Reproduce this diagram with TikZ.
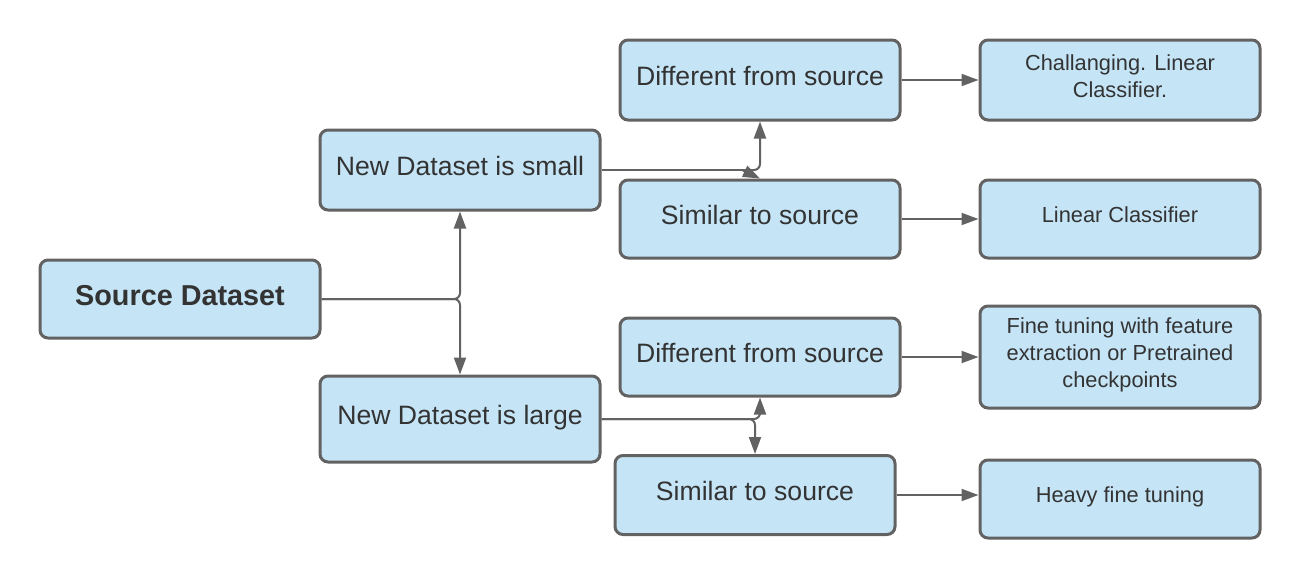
\documentclass[tikz,border=0pt]{standalone}
\usepackage{fontspec}
\setmainfont{Liberation Sans}
\usepackage{tikz}
\usetikzlibrary{positioning,arrows.meta}
\definecolor{boxFill}{RGB}{197,229,247}
\definecolor{boxLine}{RGB}{98,98,98}
\definecolor{textColor}{RGB}{51,51,51}
\tikzstyle{flowchart} = [x = 0.5pt, y = -0.5pt]
\tikzstyle{boxStyle} = [draw=boxLine, fill=boxFill, line width=1.5pt, rounded corners=4pt, text=textColor, minimum width=140pt, align=center, inner sep=2pt, text depth=4pt]
\tikzstyle{bigBox} = [boxStyle, font=\fontsize{13.3}{16}\selectfont]
\tikzstyle{smallBox} = [boxStyle, font=\fontsize{10.9}{13.5}\selectfont]
\tikzstyle{link} = [draw=boxLine, line width=1pt, rounded corners=3pt, -{Triangle[length=8.5pt,width=6pt]}]
\tikzset{boxHeight/.style={minimum height=#1*0.5pt}}
\begin{document}
\begin{tikzpicture}[flowchart]
    \useasboundingbox (0,0) rectangle (1300,579);
    % left column
    \node [bigBox, boxHeight=78, font=\fontsize{14.4}{17}\selectfont] (source) at (180,299) {\textbf{Source Dataset}};
    \node [bigBox, boxHeight=80] (small) at (460,170) {New Dataset is small};
    \node [bigBox, boxHeight=86] (large) at (460,419) {New Dataset is large};
    % middle column
    \node [bigBox, boxHeight=80] (diffSmall) at (760,80) {Different from source};
    \node [bigBox, boxHeight=78] (simSmall) at (760,219) {Similar to source};
    \node [bigBox, boxHeight=78] (diffLarge) at (760,357) {Different from source};
    \node [bigBox, boxHeight=79] (simLarge) at (755,495) {Similar to source};
    % right column
    \node [smallBox, boxHeight=80] (outDiffSmall) at (1120,80) {Challanging. Linear\\Classifier.};
    \node [smallBox, boxHeight=78] (outSimSmall) at (1120,219) {Linear Classifier};
    \node [smallBox, boxHeight=102] (outDiffLarge) at (1120,357) {Fine tuning with feature\\extraction or Pretrained\\checkpoints};
    \node [smallBox, boxHeight=78] (outSimLarge) at (1120,499) {Heavy fine tuning};
    % connectors
    \draw [link] (source.east) -| (small.south);
    \draw [link] (source.east) -| (large.north);
    \coordinate (forkSmall) at (742,170);
    \draw [link, -] (small.east) -- (forkSmall);
    \draw [link] (forkSmall) -| (diffSmall.south);
    \draw [link] (forkSmall) -- (simSmall.north);
    \draw [link] (large.east) -| (diffLarge.south);
    \draw [link] (large.east) -| (simLarge.north);
    \draw [link] (diffSmall.east) -- (outDiffSmall.west);
    \draw [link] (simSmall.east) -- (outSimSmall.west);
    \draw [link] (diffLarge.east) -- (outDiffLarge.west);
    \draw [link] (simLarge.east) -- (simLarge.east -| outSimLarge.west);
\end{tikzpicture}
\end{document}
